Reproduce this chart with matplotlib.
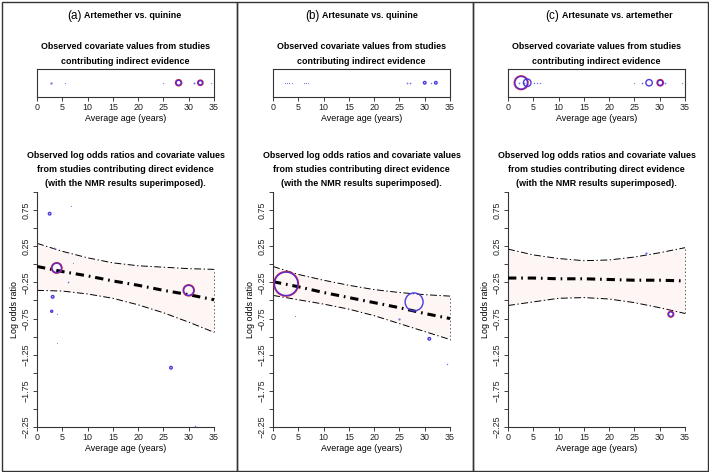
import matplotlib
matplotlib.use("Agg")
import matplotlib.pyplot as plt
from matplotlib.patches import Rectangle

plt.rcParams['font.family'] = ['Liberation Sans', 'DejaVu Sans']
plt.rcParams['lines.scale_dashes'] = False

W, H = 709, 472

# ---- panel titles
panel_tags = ['(a)', '(b)', '(c)']
panel_names = ['Artemether vs. quinine', 'Artesunate vs. quinine', 'Artesunate vs. artemether']

# ---- axis ticks
x_ticks = [0, 5, 10, 15, 20, 25, 30, 35]
y_ticks = [-2.25, -2.0, -1.75, -1.5, -1.25, -1.0, -0.75, -0.5, -0.25, 0.0, 0.25, 0.5, 0.75, 1.0]
y_tick_labels = ['\u22122.25', '', '\u22121.75', '', '\u22121.25', '', '\u22120.75', '',
                 '\u22120.25', '', '0.25', '', '0.75', '']

# ---- indirect evidence: average age and point radius (study weight)
ind_a_age = [2.8, 5.5, 25.0, 28.0, 31.0, 32.3, 34.5]
ind_a_rad = [0.8, 0.4, 0.4, 2.8, 0.7, 2.4, 0.4]
ind_a_red = [False, False, False, True, False, True, False]

ind_b_age = [2.4, 2.8, 3.2, 3.7, 6.1, 6.5, 7.0, 26.4, 27.1, 30.0, 31.2, 32.2]
ind_b_rad = [0.4, 0.4, 0.4, 0.4, 0.4, 0.4, 0.4, 0.6, 0.6, 1.3, 0.5, 1.3]
ind_b_red = [False] * 12

ind_c_age = [2.2, 2.6, 3.2, 3.8, 5.1, 5.7, 6.4, 25.0, 26.5, 27.9, 30.1, 31.0, 34.5]
ind_c_rad = [0.6, 6.6, 0.6, 3.8, 0.5, 0.5, 0.5, 0.4, 0.6, 3.2, 2.9, 0.6, 0.4]
ind_c_red = [False, True, False, False, False, False, False, False, False, False, True, False, False]

# ---- direct evidence: average age, log odds ratio, point radius
dir_a_age = [2.5, 6.8, 3.4, 3.9, 6.1, 7.1, 3.1, 2.9, 4.0, 4.0, 26.5, 31.2, 30.0]
dir_a_lor = [0.70, 0.80, 0.23, -0.05, -0.24, 0.02, -0.45, -0.65, -0.69, -1.09, -1.43, -2.24, -0.36]
dir_a_rad = [1.3, 0.4, 0.6, 5.0, 0.6, 0.3, 1.3, 1.0, 0.4, 0.3, 1.3, 0.5, 5.3]
dir_a_red = [False, False, False, True, False, False, False, False, False, False, False, False, True]

dir_b_age = [2.6, 27.9, 4.35, 24.9, 30.9, 34.4]
dir_b_lor = [-0.27, -0.52, -0.71, -0.75, -1.03, -1.38]
dir_b_rad = [12.0, 9.0, 0.4, 0.8, 1.3, 0.5]
dir_b_red = [True, False, False, False, False, False]

dir_c_age = [27.3, 32.2]
dir_c_lor = [0.15, -0.69]
dir_c_rad = [0.8, 2.6]
dir_c_red = [False, True]

# ---- NMR results: regression line and band
band_x = [0, 5, 10, 15, 20, 25, 30, 35]
nmr_a_fit = [-0.03, -0.10, -0.16, -0.23, -0.29, -0.36, -0.42, -0.49]
nmr_a_up = [0.29, 0.18, 0.09, 0.02, -0.02, -0.04, -0.06, -0.07]
nmr_a_lo = [-0.36, -0.37, -0.41, -0.47, -0.56, -0.67, -0.80, -0.94]

nmr_b_fit = [-0.24, -0.31, -0.39, -0.46, -0.53, -0.60, -0.68, -0.75]
nmr_b_up = [-0.03, -0.14, -0.22, -0.29, -0.35, -0.39, -0.42, -0.44]
nmr_b_lo = [-0.43, -0.49, -0.55, -0.62, -0.71, -0.82, -0.93, -1.04]

nmr_c_fit = [-0.19, -0.19, -0.20, -0.20, -0.21, -0.22, -0.22, -0.23]
nmr_c_up = [0.21, 0.13, 0.08, 0.05, 0.06, 0.10, 0.16, 0.23]
nmr_c_lo = [-0.57, -0.52, -0.47, -0.46, -0.48, -0.53, -0.60, -0.68]

panels = [
    (ind_a_age, ind_a_rad, ind_a_red, dir_a_age, dir_a_lor, dir_a_rad, dir_a_red, nmr_a_fit, nmr_a_up, nmr_a_lo),
    (ind_b_age, ind_b_rad, ind_b_red, dir_b_age, dir_b_lor, dir_b_rad, dir_b_red, nmr_b_fit, nmr_b_up, nmr_b_lo),
    (ind_c_age, ind_c_rad, ind_c_red, dir_c_age, dir_c_lor, dir_c_rad, dir_c_red, nmr_c_fit, nmr_c_up, nmr_c_lo),
]

BLUE = '#4a3be0'
RED = '#d8283c'
FS = 6.4

fig = plt.figure(figsize=(W / 100, H / 100), dpi=100)


def add_px_axes(left, top, right, bottom):
    return fig.add_axes([left / W, 1 - bottom / H, (right - left) / W, (bottom - top) / H])


def fig_text(x, y, s, **kw):
    fig.text(x / W, 1 - y / H, s, **kw)


def draw_points(ax, xs, ys, rads, reds):
    # radius in pixels -> scatter size in points^2
    for x, y, r, red in zip(xs, ys, rads, reds):
        if r < 1.0:
            ax.scatter([x], [y], s=(2 * r * 0.72) ** 2 * 2, color='#7070ee', lw=0, zorder=4)
            continue
        if red:
            ax.scatter([x], [y], s=(2 * (r + 0.3) * 0.72) ** 2, facecolors='none',
                       edgecolors=RED, linewidths=1.0, zorder=4)
            ax.scatter([x], [y], s=(2 * (r - 0.3) * 0.72) ** 2, facecolors='none',
                       edgecolors='#5a2ad0', linewidths=1.0, zorder=5)
        else:
            ax.scatter([x], [y], s=(2 * r * 0.72) ** 2, facecolors='none',
                       edgecolors=BLUE, linewidths=1.0, zorder=4)


def style_ticks(ax):
    ax.tick_params(direction='out', length=3, width=0.6, labelsize=FS, pad=1.5, colors='#222222')


panel_dx = [0, 236, 471]
tag_right = [82, 319, 559]

for i, (ia, ir, ired, da, dl, dr, dred, fit, up, lo) in enumerate(panels):
    dx = panel_dx[i]
    fig.add_artist(Rectangle(((dx + 1.5) / W, 1.5 / H), 235 / W, (H - 3) / H,
                             transform=fig.transFigure, fill=False, lw=1.0, edgecolor='#333333'))

    # panel title
    fig_text(tag_right[i], 15.5, panel_tags[i], fontsize=8.4, ha='right', va='center')
    fig_text(tag_right[i] + 2.5, 16, panel_names[i], fontsize=FS, fontweight='bold', ha='left', va='center')

    cx = dx + 125.5
    fig_text(cx, 46.5, 'Observed covariate values from studies', fontsize=FS, fontweight='bold',
             ha='center', va='center')
    fig_text(cx, 61, 'contributing indirect evidence', fontsize=FS, fontweight='bold',
             ha='center', va='center')

    # strip of indirect covariate values
    ax1 = add_px_axes(dx + 37, 68.5, dx + 214, 97)
    ax1.set_xlim(0, 35)
    ax1.set_ylim(0, 1)
    ax1.set_yticks([])
    ax1.set_xticks(x_ticks)
    style_ticks(ax1)
    for sp in ax1.spines.values():
        sp.set_linewidth(0.8)
        sp.set_color('#333333')
    draw_points(ax1, ia, [0.5] * len(ia), ir, ired)
    ax1.set_xlabel('Average age (years)', fontsize=FS, labelpad=1.5)

    fig_text(cx, 155, 'Observed log odds ratios and covariate values', fontsize=FS, fontweight='bold',
             ha='center', va='center')
    fig_text(cx, 169, 'from studies contributing direct evidence', fontsize=FS, fontweight='bold',
             ha='center', va='center')
    fig_text(cx, 183.5, '(with the NMR results superimposed).', fontsize=FS, fontweight='bold',
             ha='center', va='center')

    # direct evidence with NMR fit
    ax2 = add_px_axes(dx + 37, 192, dx + 214, 427)
    ax2.set_xlim(0, 35)
    ax2.set_ylim(-2.25, 1.0)
    ax2.set_xticks(x_ticks)
    ax2.set_yticks(y_ticks)
    ax2.set_yticklabels(y_tick_labels, rotation=90, va='center')
    style_ticks(ax2)
    ax2.spines['top'].set_visible(False)
    ax2.spines['right'].set_visible(False)
    for s in ('left', 'bottom'):
        ax2.spines[s].set_linewidth(0.8)
        ax2.spines[s].set_color('#333333')
    ax2.set_xlabel('Average age (years)', fontsize=FS, labelpad=1.5)
    ax2.set_ylabel('Log odds ratio', fontsize=FS, labelpad=2)

    ax2.fill_between(band_x, lo, up, color='#fdf6f4', lw=0, zorder=1)
    ax2.plot(band_x, up, color='black', lw=0.7, dashes=(5, 1.8, 1, 1.8), zorder=2)
    ax2.plot(band_x, lo, color='black', lw=0.7, dashes=(5, 1.8, 1, 1.8), zorder=2)
    for k in (0, -1):
        ax2.plot([band_x[k], band_x[k]], [lo[k], up[k]], color='#444444', lw=0.6, ls=':', zorder=2,
                 clip_on=False)
    ax2.plot(band_x, fit, color='black', lw=2.2, dashes=(6, 3.5, 1.2, 3.5), zorder=3)
    draw_points(ax2, da, dl, dr, dred)
    for a in (ax1, ax2):
        a.set_facecolor('white')
        for c in a.collections:
            c.set_clip_on(False)

fig.savefig('out.png', dpi=100)
